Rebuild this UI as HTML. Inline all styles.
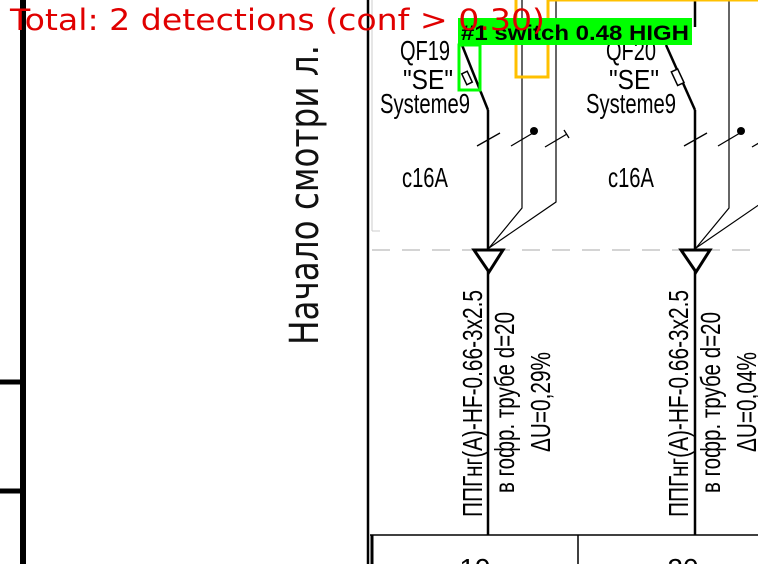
<!DOCTYPE html>
<html><head><meta charset="utf-8"><style>
html,body{margin:0;padding:0;background:#fff;}
svg{display:block;}
text{font-family:"Liberation Sans Narrow","Liberation Sans",sans-serif;}
</style></head><body>
<svg width="758" height="564" viewBox="0 0 758 564">
  <rect width="758" height="564" fill="#fff"/>
  <line x1="23" y1="0" x2="23" y2="564" stroke="#000" stroke-width="6"/>
  <line x1="0" y1="382" x2="24" y2="382" stroke="#000" stroke-width="5"/>
  <line x1="0" y1="491" x2="24" y2="491" stroke="#000" stroke-width="5"/>
  <line x1="368" y1="0" x2="368" y2="564" stroke="#000" stroke-width="2.5"/>
  <line x1="372" y1="0" x2="372" y2="231" stroke="#ccc" stroke-width="1"/>
  <line x1="372" y1="231" x2="380" y2="231" stroke="#ccc" stroke-width="1"/>
  <text transform="translate(318,345) rotate(-90)" font-size="40" textLength="300" lengthAdjust="spacingAndGlyphs" style="font-family:'DejaVu Sans',sans-serif;font-weight:normal" fill="#111">Начало смотри л.</text>

  <line x1="372" y1="250" x2="758" y2="250" stroke="#aaa" stroke-width="1" stroke-dasharray="18 12"/>

  <line x1="370" y1="535" x2="758" y2="535" stroke="#000" stroke-width="1.5"/>
  <line x1="372" y1="535" x2="372" y2="564" stroke="#000" stroke-width="3"/>
  <line x1="578" y1="535" x2="578" y2="564" stroke="#000" stroke-width="1.5"/>
  <text x="475" y="578" font-size="28" text-anchor="middle">19</text>
  <text x="683" y="578" font-size="28" text-anchor="middle">20</text>

  <g>
    <line x1="462" y1="45" x2="488" y2="110" stroke="#000" stroke-width="2.5"/>
    <rect x="464" y="72" width="6" height="12" fill="#fff" stroke="#000" stroke-width="1.5" transform="rotate(-25 467 78)"/>
    <line x1="488" y1="110" x2="488" y2="535" stroke="#000" stroke-width="2.5"/>
    <polyline points="522,0 522,208 489,248" fill="none" stroke="#000" stroke-width="1.2"/>
    <polyline points="556,0 556,202 489,248" fill="none" stroke="#000" stroke-width="1.2"/>
    <line x1="477" y1="146" x2="500" y2="133" stroke="#000" stroke-width="1.3"/>
    <line x1="511" y1="146" x2="533" y2="133" stroke="#000" stroke-width="1.3"/>
    <circle cx="534" cy="131" r="4" fill="#000"/>
    <line x1="545" y1="147" x2="567" y2="134" stroke="#000" stroke-width="1.3"/>
    <line x1="564" y1="130" x2="569" y2="138" stroke="#000" stroke-width="1.3"/>
    <polygon points="474,250 503,250 489,272" fill="#fff" stroke="#000" stroke-width="3"/>
    <text x="425" y="60" font-size="28" text-anchor="middle" textLength="50" lengthAdjust="spacingAndGlyphs">QF19</text>
    <text x="428" y="89" font-size="28" text-anchor="middle" textLength="50" lengthAdjust="spacingAndGlyphs">"SE"</text>
    <text x="425" y="113" font-size="28" text-anchor="middle" textLength="90" lengthAdjust="spacingAndGlyphs">Systeme9</text>
    <text x="425" y="187" font-size="28" text-anchor="middle" textLength="46" lengthAdjust="spacingAndGlyphs">c16A</text>
    <text transform="translate(482,517) rotate(-90)" font-size="28" textLength="227" lengthAdjust="spacingAndGlyphs">ППГнг(А)-HF-0.66-3x2.5</text>
    <text transform="translate(514,493) rotate(-90)" font-size="28" textLength="181" lengthAdjust="spacingAndGlyphs">в гофр. трубе d=20</text>
    <text transform="translate(550,452) rotate(-90)" font-size="28" textLength="100" lengthAdjust="spacingAndGlyphs">ΔU=0,29%</text>
  </g>

  <g>
    <line x1="695" y1="0" x2="695" y2="27" stroke="#000" stroke-width="2.5"/>
    <line x1="666" y1="45" x2="695" y2="110" stroke="#000" stroke-width="2.5"/>
    <rect x="674" y="70" width="7" height="15" fill="#fff" stroke="#000" stroke-width="1.5" transform="rotate(-25 677 77)"/>
    <line x1="695" y1="110" x2="695" y2="535" stroke="#000" stroke-width="2.5"/>
    <polyline points="729,0 729,208 696,248" fill="none" stroke="#000" stroke-width="1.2"/>
    <polyline points="763,0 763,202 696,248" fill="none" stroke="#000" stroke-width="1.2"/>
    <line x1="684" y1="146" x2="707" y2="133" stroke="#000" stroke-width="1.3"/>
    <line x1="718" y1="146" x2="740" y2="133" stroke="#000" stroke-width="1.3"/>
    <circle cx="741" cy="131" r="4" fill="#000"/>
    <line x1="752" y1="147" x2="774" y2="134" stroke="#000" stroke-width="1.3"/>
    <polygon points="681,250 710,250 696,272" fill="#fff" stroke="#000" stroke-width="3"/>
    <text x="631" y="60" font-size="28" text-anchor="middle" textLength="50" lengthAdjust="spacingAndGlyphs">QF20</text>
    <text x="634" y="89" font-size="28" text-anchor="middle" textLength="50" lengthAdjust="spacingAndGlyphs">"SE"</text>
    <text x="631" y="113" font-size="28" text-anchor="middle" textLength="90" lengthAdjust="spacingAndGlyphs">Systeme9</text>
    <text x="631" y="187" font-size="28" text-anchor="middle" textLength="46" lengthAdjust="spacingAndGlyphs">c16A</text>
    <text transform="translate(688,517) rotate(-90)" font-size="28" textLength="227" lengthAdjust="spacingAndGlyphs">ППГнг(А)-HF-0.66-3x2.5</text>
    <text transform="translate(720,493) rotate(-90)" font-size="28" textLength="181" lengthAdjust="spacingAndGlyphs">в гофр. трубе d=20</text>
    <text transform="translate(756,452) rotate(-90)" font-size="28" textLength="100" lengthAdjust="spacingAndGlyphs">ΔU=0,04%</text>
  </g>

  <rect x="516" y="-5" width="32" height="82" fill="none" stroke="#ffc000" stroke-width="3"/>
  <line x1="548" y1="0" x2="758" y2="0" stroke="#ffc000" stroke-width="3"/>
  <rect x="458" y="18" width="234" height="27" fill="#00ff00"/>
  <text x="461" y="40" font-size="21" font-weight="bold" fill="#000" textLength="228" lengthAdjust="spacingAndGlyphs" style="font-family:'Liberation Sans',sans-serif">#1 switch 0.48 HIGH</text>
  <rect x="459" y="45" width="21" height="45" fill="none" stroke="#00ff00" stroke-width="3"/>
  <text x="10" y="30" font-size="29" fill="#e00000" textLength="535" lengthAdjust="spacingAndGlyphs" style="font-family:'DejaVu Sans',sans-serif">Total: 2 detections (conf &gt; 0.30)</text>
</svg>
</body></html>
